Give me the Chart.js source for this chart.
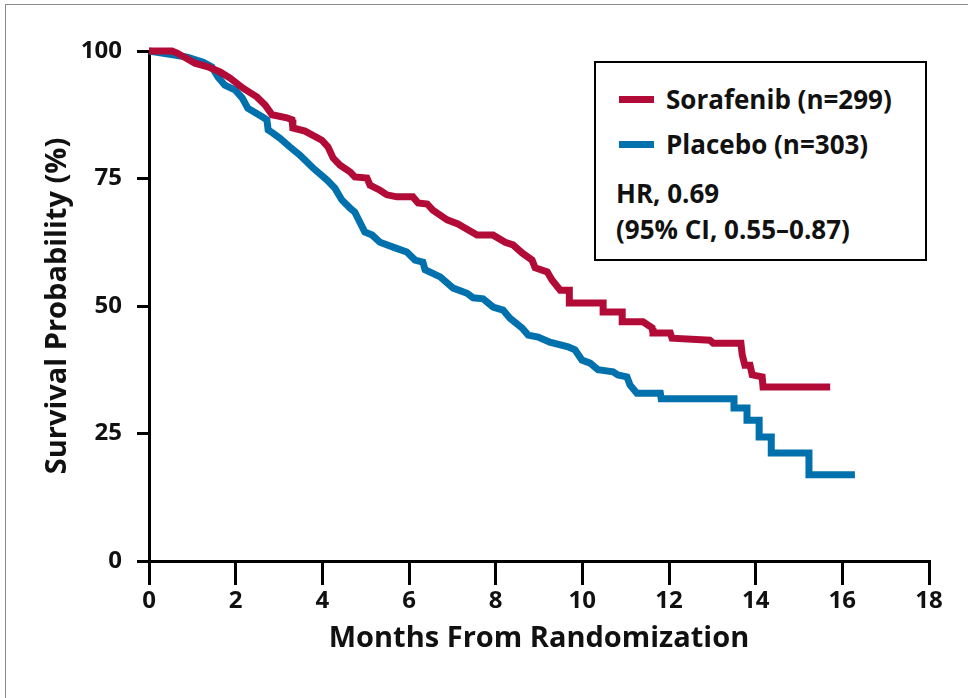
<!DOCTYPE html>
<html>
<head>
<meta charset="utf-8">
<title>Survival Probability</title>
<script src="https://cdn.jsdelivr.net/npm/chart.js@4.4.1/dist/chart.umd.min.js"></script>
<style>
    html, body { margin: 0; padding: 0; background: #fff; overflow: hidden; }
    #wrap { position: relative; width: 968px; height: 698px; }
    #frame {
        position: absolute; left: 5px; top: 4px; width: 1000px; height: 800px;
        border-top: 1px solid #8a8a8a; border-left: 1px solid #8a8a8a;
    }
    #km-chart { position: absolute; left: 0; top: 0; }
    #legend {
        position: absolute; left: 594px; top: 61px; width: 333px; height: 200px;
        box-sizing: border-box; border: 2px solid #000; background: #fff;
        font-family: 'Open Sans', sans-serif; font-weight: 700; font-size: 26px; color: #111;
    }
    #legend .row { position: absolute; height: 30px; line-height: 30px; white-space: nowrap; }
    #legend .swatch { position: absolute; left: 23px; width: 35px; height: 7px; }
</style>
</head>
<body>
<div id="wrap">
    <div id="frame"></div>
    <canvas id="km-chart" width="968" height="698"></canvas>
    <div id="legend"></div>
</div>
<script>
// Kaplan-Meier curves (months, survival %)
const sorafenibMonths = [0, 0.53, 0.65, 1.06, 1.36, 1.64, 1.87, 2.17, 2.49, 2.68, 2.84, 3.18, 3.30, 3.32, 3.60, 3.99, 4.13, 4.25, 4.41, 4.64, 4.75, 5.03, 5.10, 5.33, 5.49, 5.72, 6.09, 6.21, 6.42, 6.55, 6.88, 7.13, 7.25, 7.57, 7.94, 8.22, 8.40, 8.61, 8.84, 8.91, 9.19, 9.30, 9.49, 9.70, 9.70, 10.48, 10.48, 10.92, 10.92, 11.40, 11.61, 11.63, 12.03, 12.07, 12.94, 13.02, 13.66, 13.69, 13.75, 13.87, 13.92, 14.15, 14.17, 15.72];
const sorafenibSurvival = [100, 100, 99.6, 97.6, 96.9, 95.9, 94.7, 92.7, 91.0, 89.4, 87.5, 86.9, 86.5, 84.9, 84.3, 82.5, 81.2, 79.0, 77.6, 76.3, 75.3, 75.1, 73.7, 72.7, 71.8, 71.4, 71.4, 70.2, 70.0, 68.8, 66.9, 66.1, 65.5, 63.9, 63.9, 62.5, 62.0, 60.4, 59.0, 57.5, 56.7, 55.1, 53.1, 53.1, 50.6, 50.6, 48.8, 48.8, 46.9, 46.9, 45.7, 44.7, 44.7, 43.7, 43.3, 42.7, 42.7, 40.4, 38.4, 38.4, 36.5, 36.1, 34.1, 34.1];

const placeboMonths = [0, 0.88, 1.25, 1.45, 1.59, 1.75, 1.98, 2.15, 2.28, 2.61, 2.72, 2.75, 2.86, 3.02, 3.25, 3.48, 3.78, 4.11, 4.29, 4.45, 4.64, 4.75, 4.98, 5.15, 5.33, 5.68, 5.95, 6.14, 6.32, 6.37, 6.72, 7.02, 7.34, 7.48, 7.71, 7.94, 8.17, 8.33, 8.61, 8.75, 8.98, 9.25, 9.67, 9.83, 9.99, 10.18, 10.36, 10.71, 10.82, 11.03, 11.10, 11.26, 11.80, 11.82, 13.50, 13.50, 13.80, 13.80, 14.08, 14.08, 14.36, 14.36, 15.23, 15.23, 16.29];
const placeboSurvival = [100, 98.8, 97.8, 96.9, 94.9, 93.3, 92.4, 90.8, 88.8, 87.1, 86.5, 84.5, 83.9, 82.9, 81.2, 79.6, 77.1, 74.7, 73.1, 70.8, 69.2, 68.4, 64.5, 63.9, 62.5, 61.4, 60.6, 59.0, 58.6, 57.1, 55.7, 53.5, 52.5, 51.6, 51.4, 49.8, 49.2, 47.6, 45.7, 44.3, 43.9, 42.9, 42.0, 41.4, 39.4, 38.8, 37.5, 37.1, 36.5, 36.1, 34.5, 32.9, 32.9, 31.8, 31.8, 30.0, 30.0, 27.6, 27.6, 24.3, 24.3, 21.2, 21.2, 16.9, 16.9];

const seriesLabels = ['Sorafenib (n=299)', 'Placebo (n=303)'];
const seriesColors = ['#b30b38', '#0071ad'];
const xTicks = [0, 2, 4, 6, 8, 10, 12, 14, 16, 18];
const yTicks = [0, 25, 50, 75, 100];
const statLines = ['HR, 0.69', '(95% CI, 0.55\u20130.87)'];

const toPoints = (xs, ys) => xs.map((x, i) => ({ x: x, y: ys[i] }));

const tickFont = { family: 'Open Sans', weight: 'bold', size: 24 };
const titleFont = { family: 'Open Sans', weight: 'bold', size: 29 };

function curve(label, points, color) {
    return {
        label: label,
        data: points,
        borderColor: color,
        borderWidth: 7,
        tension: 0,
        pointRadius: 0,
        clip: false,
        borderJoinStyle: 'miter',
        borderCapStyle: 'butt'
    };
}

new Chart(document.getElementById('km-chart').getContext('2d'), {
    type: 'line',
    data: {
        datasets: [
            curve(seriesLabels[0], toPoints(sorafenibMonths, sorafenibSurvival), seriesColors[0]),
            curve(seriesLabels[1], toPoints(placeboMonths, placeboSurvival), seriesColors[1])
        ]
    },
    options: {
        responsive: false,
        animation: false,
        layout: { padding: { top: 51, right: 39, left: 0, bottom: 0 } },
        plugins: { legend: { display: false }, tooltip: { enabled: false } },
        scales: {
            x: {
                type: 'linear',
                min: 0,
                max: 18,
                afterFit: (scale) => { scale.height = 137; },
                afterBuildTicks: (scale) => { scale.ticks = xTicks.map((v) => ({ value: v })); },
                ticks: { color: '#111', font: tickFont, padding: 2, autoSkip: false, maxRotation: 0 },
                grid: { drawOnChartArea: false, tickLength: 24, lineWidth: 3, color: '#000' },
                border: { display: true, color: '#000', width: 3 },
                title: {
                    display: true,
                    text: 'Months From Randomization',
                    color: '#111',
                    font: titleFont,
                    padding: { top: 0, bottom: 42 }
                }
            },
            y: {
                min: 0,
                max: 100,
                afterFit: (scale) => { scale.width = 149; },
                afterBuildTicks: (scale) => { scale.ticks = yTicks.map((v) => ({ value: v })); },
                ticks: { color: '#111', font: tickFont, padding: 15 },
                grid: { drawOnChartArea: false, tickLength: 12, lineWidth: 3, color: '#000' },
                border: { display: true, color: '#000', width: 3 },
                title: {
                    display: true,
                    text: 'Survival Probability (%)',
                    color: '#111',
                    font: titleFont,
                    padding: { top: 40, bottom: 0 }
                }
            }
        }
    }
});

// legend box (series rows + hazard ratio text)
const legend = document.getElementById('legend');
const rowTops = [21, 66];
const swatchTops = [32.5, 77.5];
seriesLabels.forEach((label, i) => {
    const sw = document.createElement('div');
    sw.className = 'swatch';
    sw.style.top = swatchTops[i] + 'px';
    sw.style.background = seriesColors[i];
    legend.appendChild(sw);
    const row = document.createElement('div');
    row.className = 'row';
    row.style.left = '70px';
    row.style.top = rowTops[i] + 'px';
    row.textContent = label;
    legend.appendChild(row);
});
const statTops = [115, 151];
statLines.forEach((text, i) => {
    const row = document.createElement('div');
    row.className = 'row';
    row.style.left = '20px';
    row.style.top = statTops[i] + 'px';
    row.textContent = text;
    legend.appendChild(row);
});
</script>
</body>
</html>
